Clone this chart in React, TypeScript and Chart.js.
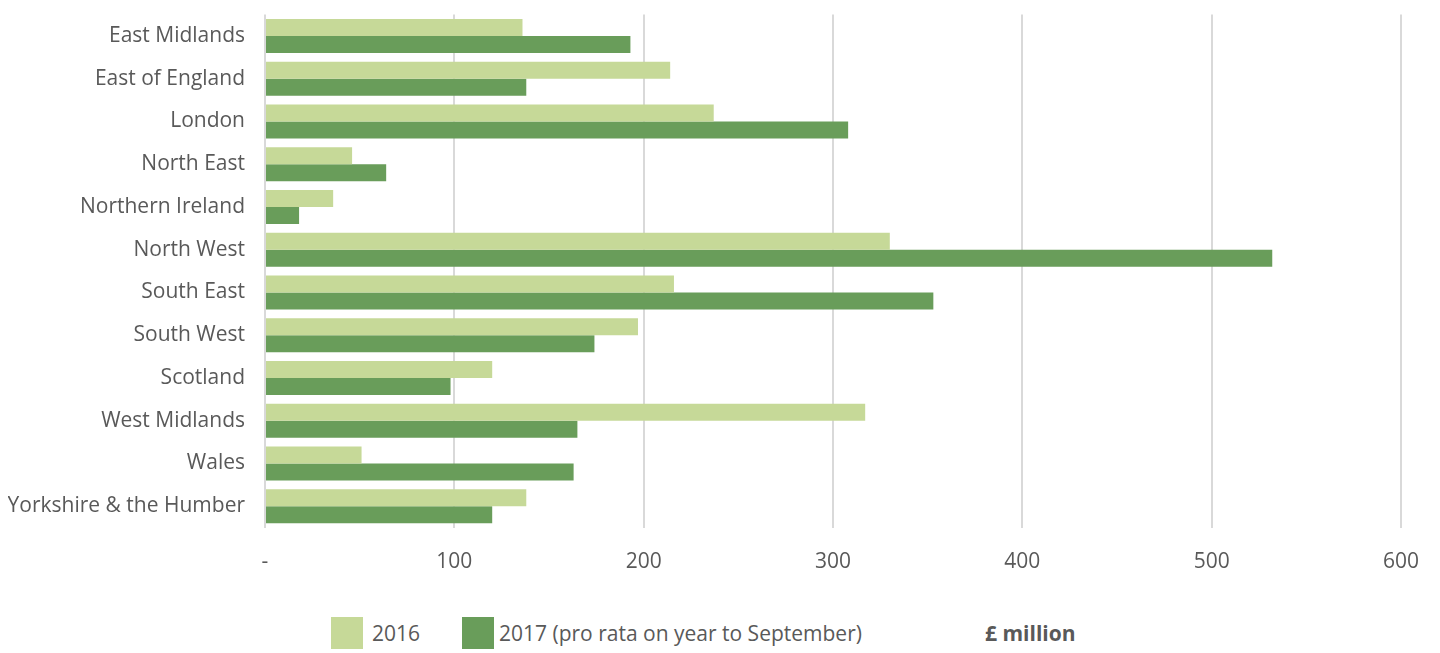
import React, { useEffect, useRef } from "react";
import { Chart, registerables } from "chart.js";

Chart.register(...registerables);

const categories = [
  "East Midlands",
  "East of England",
  "London",
  "North East",
  "Northern Ireland",
  "North West",
  "South East",
  "South West",
  "Scotland",
  "West Midlands",
  "Wales",
  "Yorkshire & the Humber",
];

const values2016 = [136, 214, 237, 46, 36, 330, 216, 197, 120, 317, 51, 138];
const values2017 = [193, 138, 308, 64, 18, 532, 353, 174, 98, 165, 163, 120];

const seriesLabels = ["2016", "2017 (pro rata on year to September)"];
const seriesColors = ["#c6d998", "#699d5a"];
const unitLabel = "£ million";

const xTicks = [0, 100, 200, 300, 400, 500, 600];

const FONT = "'Open Sans', sans-serif";
const TEXT = "#595959";

export default function App() {
  const ref = useRef<HTMLCanvasElement | null>(null);

  useEffect(() => {
    if (!ref.current) return;
    const chart = new Chart(ref.current, {
      type: "bar",
      data: {
        labels: categories,
        datasets: [
          {
            label: seriesLabels[0],
            data: values2016,
            backgroundColor: seriesColors[0],
            borderWidth: 0,
            categoryPercentage: 0.8,
            barPercentage: 1,
          },
          {
            label: seriesLabels[1],
            data: values2017,
            backgroundColor: seriesColors[1],
            borderWidth: 0,
            categoryPercentage: 0.8,
            barPercentage: 1,
          },
        ],
      },
      options: {
        indexAxis: "y",
        animation: false,
        responsive: false,
        maintainAspectRatio: false,
        layout: { padding: { top: 6.6, right: 31, bottom: 5.4, left: 0 } },
        plugins: {
          legend: { display: false },
          tooltip: { enabled: false },
        },
        scales: {
          y: {
            afterFit: (s: any) => {
              s.width = 257;
              s.paddingTop = 0;
              s.paddingBottom = 0;
            },
            grid: { display: false, drawTicks: false },
            border: { display: false },
            ticks: {
              padding: 20,
              color: TEXT,
              font: { family: FONT, size: 21 },
            },
          },
          x: {
            min: xTicks[0],
            max: xTicks[xTicks.length - 1],
            afterBuildTicks: (s: any) => {
              s.ticks = xTicks.map((v) => ({ value: v }));
            },
            afterFit: (s: any) => {
              s.paddingLeft = 0;
              s.paddingRight = 0;
              s.height = 47;
            },
            grid: { color: "#d9d9d9", lineWidth: 2, drawTicks: false },
            border: { display: false },
            ticks: {
              padding: 22,
              color: TEXT,
              font: { family: FONT, size: 21 },
              callback: (v: any) => (Number(v) === 0 ? "-" : String(v)),
            },
          },
        },
      },
    });
    return () => chart.destroy();
  }, []);

  const legendItems = [
    { left: 323, gap: 9 },
    { left: 454, gap: 5 },
  ];

  return (
    <div style={{ position: "relative", width: 1424, height: 645, fontFamily: FONT }}>
      <canvas ref={ref} width={1424} height={572} style={{ display: "block", width: 1424, height: 572 }} />
      {legendItems.map((it, i) => (
        <div
          key={i}
          style={{
            position: "absolute",
            left: it.left,
            top: 609,
            height: 32,
            display: "flex",
            alignItems: "center",
            color: TEXT,
            fontSize: 21,
            whiteSpace: "nowrap",
          }}
        >
          <span style={{ display: "inline-block", width: 32, height: 32, background: seriesColors[i], marginRight: it.gap }} />
          <span>{seriesLabels[i]}</span>
        </div>
      ))}
      <div
        style={{
          position: "absolute",
          left: 977,
          top: 609,
          height: 32,
          display: "flex",
          alignItems: "center",
          color: TEXT,
          fontSize: 21,
          fontWeight: "bold",
          whiteSpace: "nowrap",
        }}
      >
        {unitLabel}
      </div>
    </div>
  );
}
